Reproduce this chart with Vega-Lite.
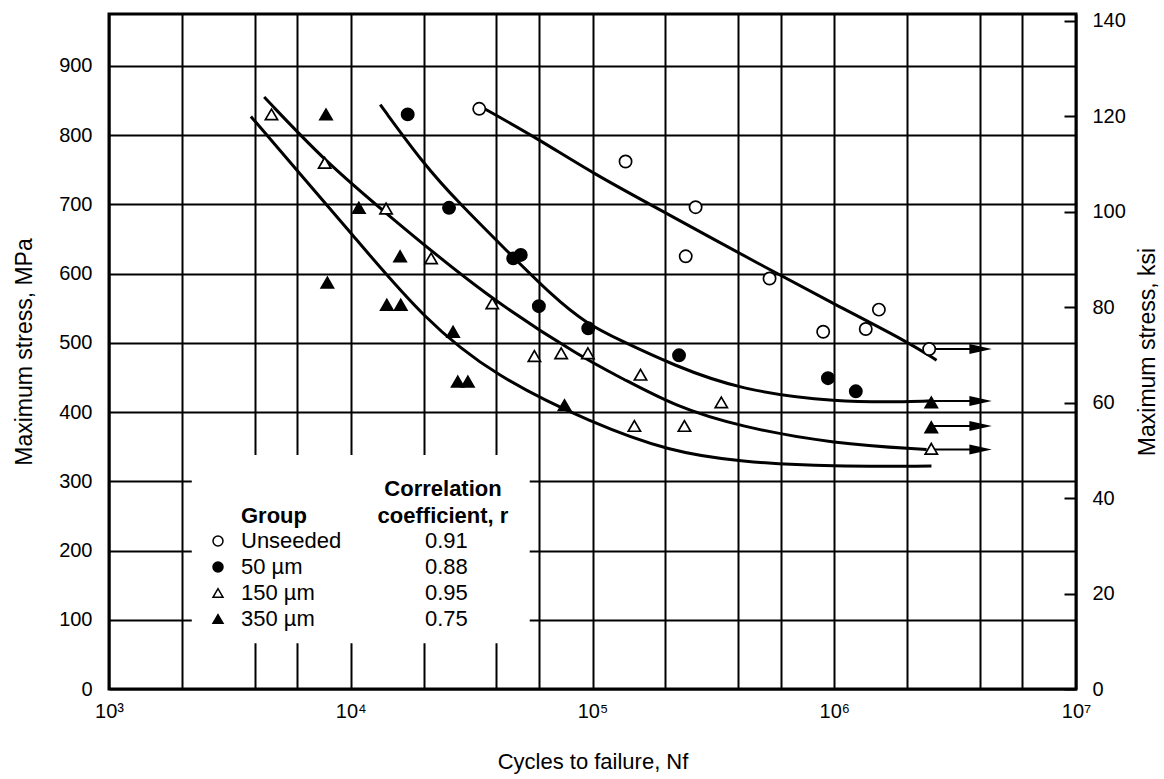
{
  "$schema": "https://vega.github.io/schema/vega-lite/v6.json",
  "width": 967,
  "height": 675,
  "autosize": {"type": "none"},
  "padding": {"left": 109, "top": 14, "right": 88, "bottom": 90},
  "background": "white",
  "config": {
    "font": "Liberation Sans",
    "view": {"stroke": "black", "strokeWidth": 3}
  },
  "datasets": {
    "points": [
      {"N": 34000, "S": 838, "group": "Unseeded"},
      {"N": 137000, "S": 762, "group": "Unseeded"},
      {"N": 267000, "S": 696, "group": "Unseeded"},
      {"N": 243000, "S": 625, "group": "Unseeded"},
      {"N": 540000, "S": 593, "group": "Unseeded"},
      {"N": 900000, "S": 516, "group": "Unseeded"},
      {"N": 1350000, "S": 520, "group": "Unseeded"},
      {"N": 1530000, "S": 548, "group": "Unseeded"},
      {"N": 2470000, "S": 491, "group": "Unseeded"},
      {"N": 17200, "S": 830, "group": "50 µm"},
      {"N": 25500, "S": 695, "group": "50 µm"},
      {"N": 47000, "S": 622, "group": "50 µm"},
      {"N": 50500, "S": 627, "group": "50 µm"},
      {"N": 60000, "S": 553, "group": "50 µm"},
      {"N": 96000, "S": 521, "group": "50 µm"},
      {"N": 228000, "S": 482, "group": "50 µm"},
      {"N": 942000, "S": 449, "group": "50 µm"},
      {"N": 1228000, "S": 430, "group": "50 µm"},
      {"N": 4700, "S": 830, "group": "150 µm"},
      {"N": 7800, "S": 760, "group": "150 µm"},
      {"N": 14000, "S": 694, "group": "150 µm"},
      {"N": 21500, "S": 622, "group": "150 µm"},
      {"N": 38500, "S": 557, "group": "150 µm"},
      {"N": 57500, "S": 481, "group": "150 µm"},
      {"N": 74200, "S": 485, "group": "150 µm"},
      {"N": 95700, "S": 485, "group": "150 µm"},
      {"N": 158000, "S": 454, "group": "150 µm"},
      {"N": 149000, "S": 380, "group": "150 µm"},
      {"N": 240000, "S": 380, "group": "150 µm"},
      {"N": 341000, "S": 414, "group": "150 µm"},
      {"N": 2520000, "S": 347, "group": "150 µm"},
      {"N": 7900, "S": 830, "group": "350 µm"},
      {"N": 10800, "S": 695, "group": "350 µm"},
      {"N": 16000, "S": 625, "group": "350 µm"},
      {"N": 8000, "S": 587, "group": "350 µm"},
      {"N": 14100, "S": 555, "group": "350 µm"},
      {"N": 16100, "S": 555, "group": "350 µm"},
      {"N": 26500, "S": 516, "group": "350 µm"},
      {"N": 27700, "S": 444, "group": "350 µm"},
      {"N": 30500, "S": 444, "group": "350 µm"},
      {"N": 76600, "S": 410, "group": "350 µm"},
      {"N": 2520000, "S": 414, "group": "350 µm"},
      {"N": 2520000, "S": 378, "group": "350 µm"}
    ],
    "curves": [
      {"curve": "Unseeded", "N": 35000, "S": 840},
      {"curve": "Unseeded", "N": 60000, "S": 794},
      {"curve": "Unseeded", "N": 100000, "S": 745},
      {"curve": "Unseeded", "N": 200000, "S": 688},
      {"curve": "Unseeded", "N": 500000, "S": 612},
      {"curve": "Unseeded", "N": 1000000, "S": 556},
      {"curve": "Unseeded", "N": 2000000, "S": 502},
      {"curve": "Unseeded", "N": 2650000, "S": 475},
      {"curve": "50 µm", "N": 13240, "S": 844},
      {"curve": "50 µm", "N": 20150, "S": 757},
      {"curve": "50 µm", "N": 27690, "S": 704},
      {"curve": "50 µm", "N": 43900, "S": 634},
      {"curve": "50 µm", "N": 68500, "S": 567},
      {"curve": "50 µm", "N": 94200, "S": 528},
      {"curve": "50 µm", "N": 129400, "S": 504},
      {"curve": "50 µm", "N": 215000, "S": 468},
      {"curve": "50 µm", "N": 406000, "S": 432},
      {"curve": "50 µm", "N": 1021000, "S": 414},
      {"curve": "50 µm", "N": 2118000, "S": 415},
      {"curve": "50 µm", "N": 2500000, "S": 416},
      {"curve": "150 µm", "N": 4384, "S": 855},
      {"curve": "150 µm", "N": 7835, "S": 762},
      {"curve": "150 µm", "N": 14000, "S": 687},
      {"curve": "150 µm", "N": 36300, "S": 567},
      {"curve": "150 µm", "N": 94200, "S": 475},
      {"curve": "150 µm", "N": 129400, "S": 451},
      {"curve": "150 µm", "N": 220000, "S": 408},
      {"curve": "150 µm", "N": 406000, "S": 379},
      {"curve": "150 µm", "N": 1000000, "S": 354},
      {"curve": "150 µm", "N": 2410000, "S": 346},
      {"curve": "350 µm", "N": 3862, "S": 827},
      {"curve": "350 µm", "N": 5967, "S": 750},
      {"curve": "350 µm", "N": 9790, "S": 663},
      {"curve": "350 µm", "N": 20140, "S": 533},
      {"curve": "350 µm", "N": 39900, "S": 451},
      {"curve": "350 µm", "N": 99700, "S": 384},
      {"curve": "350 µm", "N": 208400, "S": 343},
      {"curve": "350 µm", "N": 406000, "S": 328},
      {"curve": "350 µm", "N": 988000, "S": 321},
      {"curve": "350 µm", "N": 2524000, "S": 322}
    ],
    "arrows": [
      {"S": 491, "N": 2500000, "N2": 4030000},
      {"S": 416, "N": 2500000, "N2": 4030000},
      {"S": 380, "N": 2500000, "N2": 4030000},
      {"S": 346, "N": 2500000, "N2": 4030000}
    ],
    "correlation": [
      {"group": "Unseeded", "r": "0.91"},
      {"group": "50 µm", "r": "0.88"},
      {"group": "150 µm", "r": "0.95"},
      {"group": "350 µm", "r": "0.75"}
    ],
    "ksi": [{"ksi": 0}, {"ksi": 140}]
  },
  "layer": [
    {
      "layer": [
        {
          "data": {"name": "points"},
          "mark": {"type": "point", "opacity": 0, "size": 1},
          "encoding": {
            "x": {
              "field": "N", "type": "quantitative",
              "scale": {"type": "log", "domain": [1000, 10000000], "nice": false},
              "axis": {
                "title": "Cycles to failure, Nf",
                "values": [1000, 2000, 4000, 6000, 10000, 20000, 40000, 60000, 100000, 200000, 400000, 600000, 1000000, 2000000, 4000000, 6000000, 10000000],
                "grid": true, "gridColor": "black", "gridWidth": 2, "gridOpacity": 1,
                "ticks": false, "domain": false,
                "labelExpr": "datum.value == 1000 ? '10³' : datum.value == 10000 ? '10⁴' : datum.value == 100000 ? '10⁵' : datum.value == 1000000 ? '10⁶' : datum.value == 10000000 ? '10⁷' : ''",
                "labelFontSize": 20, "labelColor": "black", "labelPadding": 12,
                "labelOverlap": false, "labelFlush": false,
                "titleFontSize": 22, "titleFontWeight": "normal", "titleColor": "black", "titlePadding": 30
              }
            },
            "y": {
              "field": "S", "type": "quantitative",
              "scale": {"domain": [0, 975], "nice": false, "zero": false},
              "axis": {
                "title": "Maximum stress, MPa",
                "values": [0, 100, 200, 300, 400, 500, 600, 700, 800, 900],
                "grid": true, "gridColor": "black", "gridWidth": 2, "gridOpacity": 1,
                "ticks": false, "domain": false,
                "labelFontSize": 20, "labelColor": "black", "labelPadding": 17,
                "titleFontSize": 23, "titleFontWeight": "normal", "titleColor": "black", "titlePadding": 22
              }
            }
          }
        },
        {
          "data": {"values": [{}]},
          "mark": {"type": "rect", "fill": "white", "stroke": null},
          "encoding": {
            "x": {"datum": 2200, "type": "quantitative"},
            "x2": {"datum": 55000},
            "y": {"datum": 66, "type": "quantitative"},
            "y2": {"datum": 338}
          }
        },
        {
          "data": {"name": "curves"},
          "mark": {"type": "line", "color": "black", "strokeWidth": 3, "interpolate": "basis"},
          "encoding": {
            "x": {"field": "N", "type": "quantitative"},
            "y": {"field": "S", "type": "quantitative"},
            "detail": {"field": "curve"}
          }
        },
        {
          "data": {"name": "arrows"},
          "mark": {"type": "rule", "color": "black", "strokeWidth": 2},
          "encoding": {
            "x": {"field": "N", "type": "quantitative"},
            "x2": {"field": "N2"},
            "y": {"field": "S", "type": "quantitative"}
          }
        },
        {
          "data": {"name": "arrows"},
          "mark": {"type": "point", "filled": true, "color": "black", "opacity": 1, "size": 500, "shape": "M-1,-0.45L1,0L-1,0.45Z"},
          "encoding": {
            "x": {"field": "N2", "type": "quantitative"},
            "y": {"field": "S", "type": "quantitative"}
          }
        },
        {
          "data": {"name": "points"},
          "mark": {"type": "point", "filled": true, "stroke": "black", "strokeWidth": 1.7, "opacity": 1, "size": 150},
          "encoding": {
            "x": {"field": "N", "type": "quantitative"},
            "y": {"field": "S", "type": "quantitative"},
            "shape": {
              "field": "group", "type": "nominal",
              "scale": {"domain": ["Unseeded", "50 µm", "150 µm", "350 µm"], "range": ["circle", "circle", "triangle-up", "triangle-up"]},
              "legend": {
                "orient": "none", "legendX": 98, "legendY": 492, "padding": 0,
                "title": "Group", "titleFontSize": 22, "titleFontWeight": "bold", "titleColor": "black",
                "titleAnchor": "middle", "titleLineHeight": 27, "titlePadding": 2,
                "labelFontSize": 22, "labelColor": "black", "labelOffset": 12,
                "symbolSize": 100, "rowPadding": 4,
                "encode": {"symbols": {"update": {
                  "fill": {"signal": "datum.value == 'Unseeded' || datum.value == '150 µm' ? 'white' : 'black'"},
                  "fillOpacity": {"value": 1},
                  "stroke": {"value": "black"},
                  "strokeWidth": {"value": 1.5},
                  "opacity": {"value": 1}
                }}}
              }
            },
            "fill": {
              "field": "group", "type": "nominal",
              "scale": {"domain": ["Unseeded", "50 µm", "150 µm", "350 µm"], "range": ["white", "black", "white", "black"]},
              "legend": null
            }
          }
        },
        {
          "data": {"name": "correlation"},
          "mark": {"type": "point", "opacity": 0, "size": 4},
          "encoding": {
            "color": {
              "field": "r", "type": "nominal",
              "scale": {"domain": ["0.91", "0.88", "0.95", "0.75"], "range": ["white", "white", "white", "white"]},
              "legend": {
                "orient": "none", "legendX": 269, "legendY": 465, "padding": 0,
                "title": ["Correlation", "coefficient, r"], "titleFontSize": 22, "titleFontWeight": "bold", "titleColor": "black",
                "titleAnchor": "middle", "titleAlign": "center", "titleLineHeight": 27, "titlePadding": 2,
                "labelFontSize": 22, "labelColor": "black", "labelOffset": -15,
                "symbolSize": 4, "symbolOpacity": 0, "rowPadding": 4
              }
            }
          }
        }
      ]
    },
    {
      "data": {"name": "ksi"},
      "mark": {"type": "point", "opacity": 0},
      "encoding": {
        "y": {
          "field": "ksi", "type": "quantitative",
          "scale": {"domain": [0, 141.41], "nice": false, "zero": false},
          "axis": {
            "orient": "right",
            "title": "Maximum stress, ksi",
            "values": [0, 20, 40, 60, 80, 100, 120, 140],
            "grid": false, "domain": false,
            "ticks": true, "tickSize": -12, "tickColor": "black", "tickWidth": 2,
            "labelFontSize": 20, "labelColor": "black", "labelPadding": 28,
            "titleFontSize": 23, "titleFontWeight": "normal", "titleColor": "black", "titlePadding": 34,
            "titleAngle": 270
          }
        }
      }
    }
  ],
  "resolve": {"scale": {"y": "independent"}}
}
